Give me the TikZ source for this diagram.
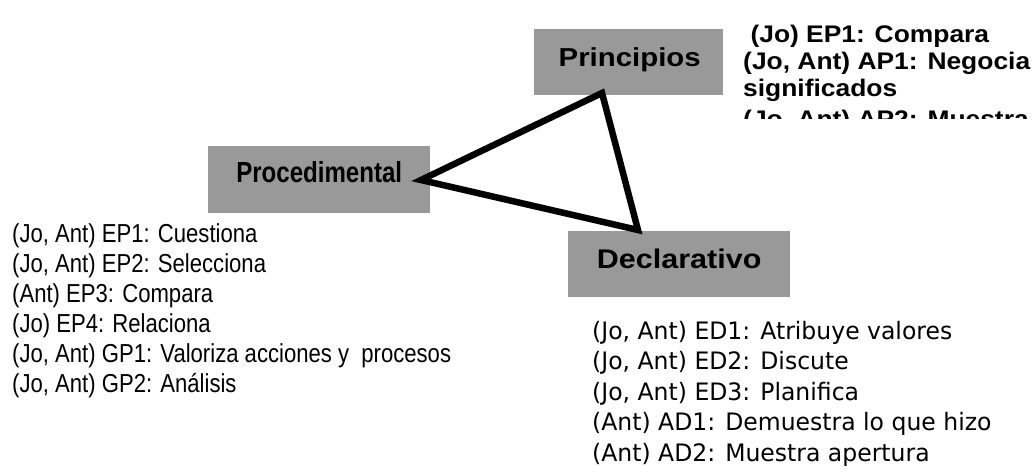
\documentclass[tikz,border=0pt]{standalone}
\usepackage{fontspec}
\setmainfont{Liberation Sans}
% Families for the individual labels and lists
\newfontfamily\prinfont[FakeStretch=1.13]{Liberation Sans Bold}
\newfontfamily\declfont[FakeStretch=1.13]{Liberation Sans Bold}
\newfontfamily\procfont[FakeStretch=0.83]{Liberation Sans Bold}
\newfontfamily\topfont[FakeStretch=1.1]{Liberation Sans Bold}
\newfontfamily\leftfont[FakeStretch=0.85]{Liberation Sans}
\newfontfamily\rightfont[FakeStretch=0.98]{DejaVu Sans}
\usetikzlibrary{calc}
\definecolor{boxgray}{RGB}{153,153,153}

\begin{document}
\begin{tikzpicture}[x=1pt,y=-1pt,
  box/.style={fill=boxgray, draw=none, inner sep=0pt, anchor=north west},
  lbl/.style={inner sep=0pt, anchor=base},
  item/.style={inner sep=0pt, anchor=base west},
  edge/.style={line width=6.5pt, draw=black, line join=miter}]
\useasboundingbox (0,0) rectangle (1036,473);

% grey category boxes
\node[box, minimum width=189pt, minimum height=66pt] (prin) at (534,29) {};
\node[box, minimum width=222pt, minimum height=67pt] (proc) at (208,146) {};
\node[box, minimum width=222pt, minimum height=66pt] (decl) at (568,231) {};

% box captions
\node[lbl, font=\prinfont\fontsize{26}{30}\selectfont] (prinlbl) at ($(prin.north)+(1,38)$) {Principios};
\node[lbl, font=\procfont\fontsize{29}{33}\selectfont] (proclbl) at ($(proc.north)+(0,37)$) {Procedimental};
\node[lbl, font=\declfont\fontsize{27}{31}\selectfont] (decllbl) at ($(decl.north)+(0,38)$) {Declarativo};

% triangle joining the three categories
\coordinate (ttop) at (602,93);
\coordinate (tleft) at (421,180);
\coordinate (tright) at (638,230);
\draw[edge] (ttop) -- (tleft) -- (tright) -- cycle;

% list beside Principios, cut off at the bottom of its text frame
\begin{scope}
\clip (700,0) rectangle (1036,119);
\foreach \t/\yb [count=\i from 0] in {{\ (Jo) EP1: Compara}/43,{(Jo, Ant) AP1: Negocia}/70,{significados}/97,{(Jo, Ant) AP2: Muestra}/128}
  \node[item, font=\topfont\fontsize{24}{27}\selectfont] (tp\i) at (743,\yb) {\t};
\end{scope}

% list under Procedimental
\foreach \t [count=\i from 0] in {{(Jo, Ant) EP1: Cuestiona},{(Jo, Ant) EP2: Selecciona},{(Ant) EP3: Compara},{(Jo) EP4: Relaciona},{(Jo, Ant) GP1: Valoriza acciones y\ \ procesos},{(Jo, Ant) GP2: Análisis}}
  \node[item, font=\leftfont\fontsize{26}{30}\selectfont] (pl\i) at (12,243+29.8*\i) {\t};

% list under Declarativo
\foreach \t [count=\i from 0] in {{(Jo, Ant) ED1: Atribuye valores},{(Jo, Ant) ED2: Discute},{(Jo, Ant) ED3: Planifica},{(Ant) AD1: Demuestra lo que hizo},{(Ant) AD2: Muestra apertura}}
  \node[item, font=\rightfont\fontsize{24}{29}\selectfont] (dl\i) at (592,339+30.5*\i) {\t};
\end{tikzpicture}
\end{document}
